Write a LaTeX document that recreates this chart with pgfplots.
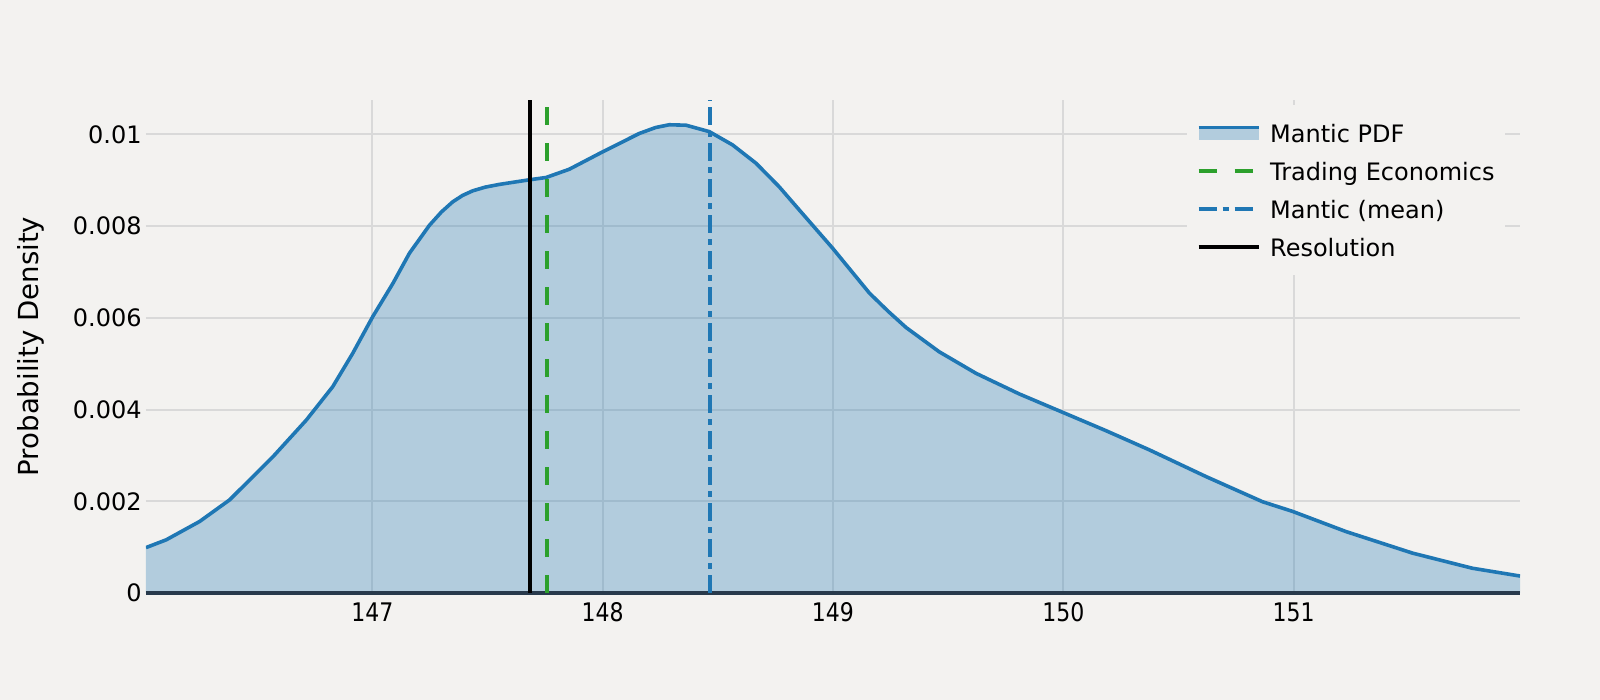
\documentclass[border=0pt]{standalone}
\usepackage{fontspec}
\setmainfont{DejaVu Sans}
\usepackage{pgfplots}
\usepackage{pgfplotstable}
\pgfplotsset{compat=1.18}

\definecolor{bg}{RGB}{243,242,240}
\definecolor{mblue}{RGB}{31,119,180}
\definecolor{tgreen}{RGB}{44,160,44}
\definecolor{gridc}{RGB}{217,217,217}
\definecolor{zline}{RGB}{40,58,76}

% KDE of the forecast
\pgfplotstableread{
x y
146.017 0.00099
146.105 0.00116
146.250 0.00156
146.380 0.00203
146.568 0.00297
146.713 0.00377
146.828 0.00450
146.915 0.00523
147.002 0.00603
147.089 0.00675
147.161 0.00741
147.248 0.00802
147.300 0.00831
147.349 0.00853
147.392 0.00867
147.436 0.00877
147.490 0.00885
147.552 0.00891
147.682 0.00901
147.754 0.00906
147.855 0.00924
148.000 0.00962
148.159 0.01002
148.230 0.01015
148.289 0.01021
148.362 0.01020
148.463 0.01006
148.564 0.00977
148.666 0.00937
148.766 0.00886
148.854 0.00835
148.998 0.00752
149.158 0.00654
149.240 0.00614
149.317 0.00579
149.461 0.00526
149.621 0.00479
149.809 0.00434
149.997 0.00394
150.185 0.00354
150.374 0.00312
150.619 0.00254
150.865 0.00199
150.995 0.00178
151.227 0.00134
151.516 0.00087
151.776 0.00054
151.983 0.00037
}\pdftable

\newcommand{\chartfont}{\fontsize{12}{14}\selectfont}

\begin{document}
\begin{tikzpicture}
\fill[bg] (-73pt,-53.5pt) rectangle (727pt,296.5pt);
\begin{axis}[
    at={(0,0)}, anchor=south west,
    scale only axis,
    width=687pt, height=246.5pt,
    xmin=146.017, xmax=151.983,
    ymin=0, ymax=0.01075,
    clip mode=individual,
    axis background/.style={fill=bg},
    axis line style={draw=none},
    tick style={draw=none},
    xtick={147,148,149,150,151},
    ytick={0,0.002,0.004,0.006,0.008,0.01},
    scaled y ticks=false,
    /pgf/number format/assume math mode=true,
    tick label style={font=\chartfont, inner sep=0pt, text=black},
    yticklabel style={/pgf/number format/fixed, /pgf/number format/precision=3, xshift=-2pt},
    xticklabel={\scalebox{0.86}[1]{\pgfmathprintnumber{\tick}}},
    xticklabel style={yshift=-4.6pt, font=\fontsize{12.8}{15}\selectfont},
    grid=major,
    major grid style={gridc, line width=1pt},
    ylabel={Probability Density},
    ylabel style={at={(axis description cs:-0.0841,0.5)}, anchor=center,
        font=\fontsize{13.8}{16}\selectfont},
    legend image code/.code={\draw[#1] (0pt,0pt) -- (30pt,0pt);},
    legend cell align=left,
    legend style={
        at={(rel axis cs:0.7570,0.9899)}, anchor=north west,
        fill=bg, draw=none, font=\chartfont,
        inner xsep=5pt, inner ysep=9.6pt,
        row sep=10.25pt, column sep=4.8pt,
        nodes={inner sep=0pt, text height=8.75pt, text depth=0pt, anchor=west},
    },
]
% filled area under the density
\addplot[draw=none, fill=mblue, fill opacity=0.3, forget plot]
    table[x=x, y=y] {\pdftable} \closedcycle;
% zero line (not clipped, so it keeps its full width)
\addplot[zline, line width=1.6pt, forget plot, clip=false]
    coordinates {(146.017,0) (151.983,0)};
% density curve
\addplot[mblue, line width=1.8pt,
    legend image code/.code={
        \path[draw=none, fill=mblue, fill opacity=0.3] (0pt,-3.5pt) rectangle (30pt,3pt);
        \path[draw=mblue, line width=1.6pt] (0pt,3pt) -- (30pt,3pt);
    }]
    table[x=x, y=y] {\pdftable};
\addlegendentry{Mantic PDF}
\addplot[tgreen, line width=2pt, dash pattern=on 9pt off 9pt]
    coordinates {(147.759,0) (147.759,0.01075)};
\addlegendentry{Trading Economics}
\addplot[mblue, line width=2pt, dash pattern=on 9pt off 3pt on 3pt off 3pt]
    coordinates {(148.468,0) (148.468,0.01075)};
\addlegendentry{Mantic (mean)}
\addplot[black, line width=2pt]
    coordinates {(147.684,0) (147.684,0.01075)};
\addlegendentry{Resolution}
\end{axis}
\pgfresetboundingbox
\path (-73pt,-53.5pt) rectangle (727pt,296.5pt);
\end{tikzpicture}
\end{document}
